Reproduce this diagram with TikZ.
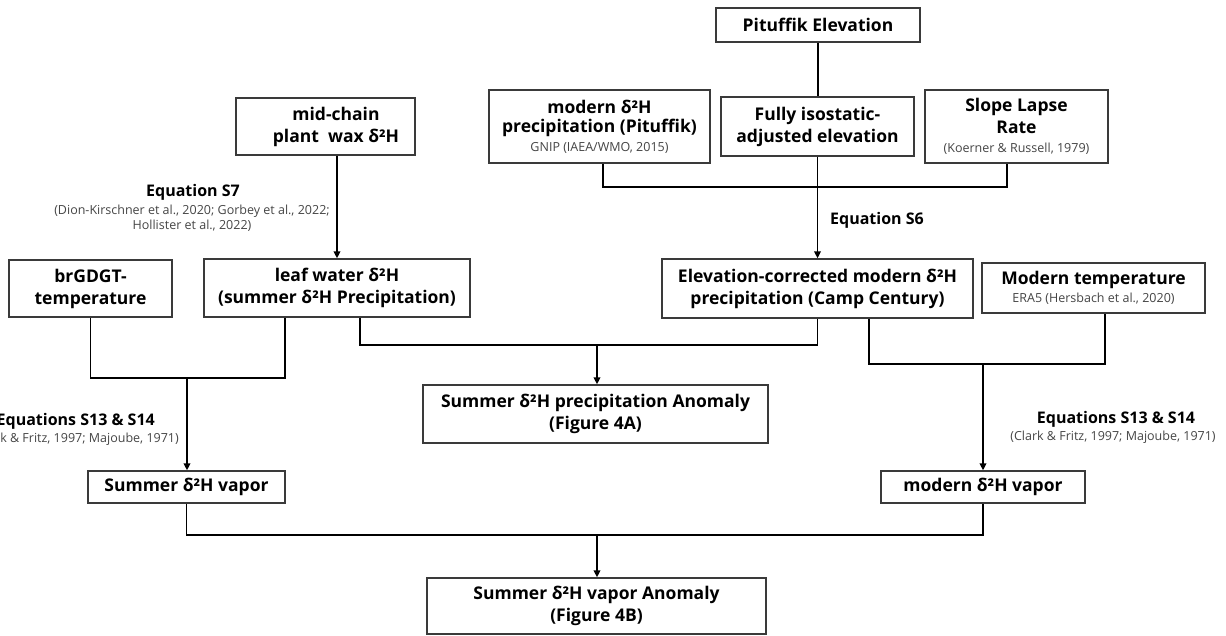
\documentclass[tikz,border=0pt]{standalone}
\usepackage{fontspec}
\setmainfont{Open Sans}
\usetikzlibrary{arrows.meta}
\definecolor{citegray}{HTML}{454545}
\definecolor{boxgray}{HTML}{3A3A3A}
\newcommand\bxf{\fontsize{17.5}{22}\selectfont\bfseries}
\newcommand\ctf{\fontsize{12.5}{15}\selectfont\mdseries\color{citegray}}
\newcommand\eqf{\fontsize{16}{19}\selectfont\bfseries}
\tikzset{
  box/.style={draw=boxgray, line width=1.3pt, fill=white, align=center, inner sep=0pt, font=\bxf},
  conn/.style={draw=black, line width=1.7pt},
  arr/.style={conn, -{Triangle[length=7pt,width=6.5pt]}},
  eqlab/.style={align=center, inner sep=0pt, font=\eqf},
  citelab/.style={align=center, inner sep=0pt, font=\ctf},
}
\begin{document}
\begin{tikzpicture}[x=1pt,y=-1pt]
\useasboundingbox (0,0) rectangle (1226,636);
% boxes
\node[box, minimum width=204, minimum height=34] (pe) at (818,25) {Pituffik Elevation};
\node[box, minimum width=221, minimum height=73] (mp) at (599.5,126.5) {modern δ²H\\[-3pt]precipitation (Pituffik)\\[-3pt]{\ctf GNIP (IAEA/WMO, 2015)}};
\node[box, minimum width=193, minimum height=59] (fi) at (817.5,126.5) {Fully isostatic-\\adjusted elevation};
\node[box, minimum width=183, minimum height=73] (sl) at (1016.5,126.5) {Slope Lapse\\Rate\\[-3pt]{\ctf (Koerner \& Russell, 1979)}};
\node[box, minimum width=179, minimum height=57] (mc) at (325.5,126.5) {};
\node[inner sep=0pt, align=center, font=\bxf] (mct) at (336,126.5) {mid-chain\\plant\ \ wax δ²H};
\node[box, minimum width=163, minimum height=57] (bg) at (90.5,288.5) {brGDGT-\\temperature};
\node[box, minimum width=266, minimum height=58] (lw) at (337,288) {leaf water δ²H\\(summer δ²H Precipitation)};
\node[box, minimum width=311, minimum height=59] (ec) at (817.5,288.5) {Elevation-corrected modern δ²H\\precipitation (Camp Century)};
\node[box, minimum width=223, minimum height=50] (mt) at (1093.5,288) {Modern temperature\\[-4pt]{\ctf ERA5 (Hersbach et al., 2020)}};
\node[box, minimum width=345, minimum height=58] (pa) at (595.5,414) {Summer δ²H precipitation Anomaly\\(Figure 4A)};
\node[box, minimum width=197, minimum height=32] (sv) at (186.5,487) {Summer δ²H vapor};
\node[box, minimum width=204, minimum height=32] (mv) at (983,487) {modern δ²H vapor};
\node[box, minimum width=339, minimum height=56] (va) at (596.5,606) {Summer δ²H vapor Anomaly\\(Figure 4B)};
% labels
\node[eqlab] (eq7) at (193,192) {Equation S7};
\node[citelab] (c7) at (192,218.5) {(Dion-Kirschner et al., 2020; Gorbey et al., 2022;\\Hollister et al., 2022)};
\node[eqlab, anchor=west] (eq6) at (830,220) {Equation S6};
\node[eqlab] (eqr) at (1116,419) {Equations S13 \& S14};
\node[citelab] (cr) at (1113,437) {(Clark \& Fritz, 1997; Majoube, 1971)};
\node[eqlab, anchor=east] (eql) at (155,421) {Equations S13 \& S14};
\node[citelab, anchor=east] (cl) at (179,439) {(Clark \& Fritz, 1997; Majoube, 1971)};
% junction coordinates
\coordinate (jt) at (818,187);
\coordinate (jl) at (187,378);
\coordinate (jm) at (597,345);
\coordinate (jr) at (983,364);
\coordinate (jb) at (597,535);
% connectors
\draw[conn] (pe.south) -- (pe.south |- fi.north);
\draw[conn] ([xshift=3.5pt]mp.south) |- (jt) -| ([xshift=-9.5pt]sl.south);
\draw[arr] (fi.south) -- (fi.south |- ec.north);
\draw[arr] (mc.south -| lw.north) -- (lw.north);
\draw[conn] (bg.south) |- (jl) -| ([xshift=-52pt]lw.south);
\draw[arr] (jl) -- (jl |- sv.north);
\draw[conn] ([xshift=23pt]lw.south) |- (jm) -| (ec.south);
\draw[arr] (jm) -- (jm |- pa.north);
\draw[conn] ([xshift=51.5pt]ec.south) |- (jr) -| ([xshift=11.5pt]mt.south);
\draw[arr] (jr) -- (jr |- mv.north);
\draw[conn] (sv.south) |- (jb) -| (mv.south);
\draw[arr] (jb) -- (jb |- va.north);
\end{tikzpicture}
\end{document}
